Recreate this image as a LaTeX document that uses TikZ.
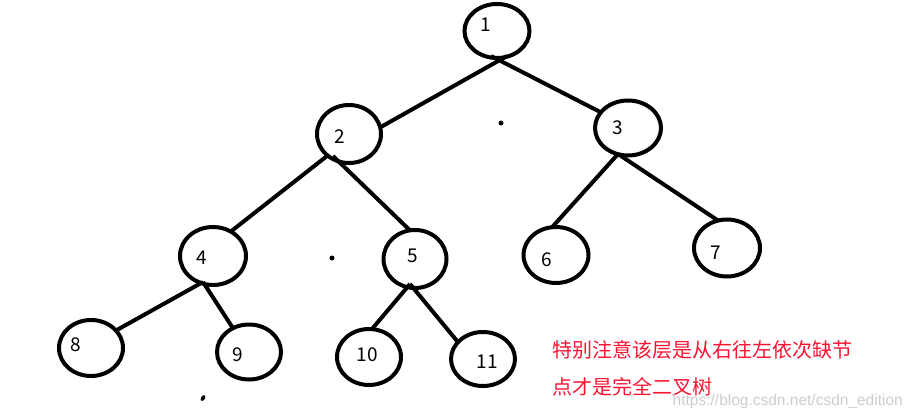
\documentclass[tikz,border=0pt]{standalone}
\usepackage{fontspec}
\setmainfont{Noto Sans CJK SC}
\newfontfamily\wmfont{Liberation Sans}
\usetikzlibrary{shapes.geometric}
\definecolor{notered}{RGB}{250,20,50}
\definecolor{wmgray}{RGB}{205,205,205}
\begin{document}
\begin{tikzpicture}[x=1pt,y=-1pt,
  treenode/.style={ellipse,draw,line width=4pt,inner sep=0pt,outer sep=0pt},
  edge/.style={line width=4pt},
  num/.style={font=\fontsize{19}{19}\selectfont,inner sep=0pt},
  dotmark/.style={fill=black}]
\useasboundingbox (0,0) rectangle (913,420);
% tree nodes
\node[treenode,minimum width=65pt,minimum height=54pt] (n1) at (497,31) {};
\node[treenode,minimum width=64pt,minimum height=58pt] (n2) at (349,134) {};
\node[treenode,minimum width=66pt,minimum height=55pt] (n3) at (628,128) {};
\node[treenode,minimum width=66pt,minimum height=58pt] (n4) at (213,256) {};
\node[treenode,minimum width=63pt,minimum height=58pt] (n5) at (415,259) {};
\node[treenode,minimum width=65pt,minimum height=56pt] (n6) at (556,255) {};
\node[treenode,minimum width=66pt,minimum height=57pt] (n7) at (727,248) {};
\node[treenode,minimum width=64pt,minimum height=56pt] (n8) at (91,348) {};
\node[treenode,minimum width=64pt,minimum height=55pt] (n9) at (249,352) {};
\node[treenode,minimum width=64pt,minimum height=56pt] (n10) at (369,357) {};
\node[treenode,minimum width=64pt,minimum height=54pt] (n11) at (483,359) {};
% numbers
\node[num] (t1) at (486,25) {1};
\node[num] (t2) at (340,137) {2};
\node[num] (t3) at (618,128) {3};
\node[num] (t4) at (202,258) {4};
\node[num] (t5) at (413,256) {5};
\node[num] (t6) at (547,260) {6};
\node[num] (t7) at (716,253) {7};
\node[num] (t8) at (76,345) {8};
\node[num] (t9) at (238,355) {9};
\node[num] (t10) at (367,355) {10};
\node[num] (t11) at (487,362) {11};
% joints
\coordinate (j1a) at (507,56);
\coordinate (j1b) at (491,56);
\coordinate (j2a) at (327,156);
\coordinate (j2b) at (333,156);
\coordinate (j3) at (618,154);
\coordinate (j4) at (203,282);
\coordinate (j5) at (410,284);
% edges
\draw[edge] (j1a) -- (n2.12);
\draw[edge] (j1b) -- (n3.150);
\draw[edge] (j2a) -- (n4.54);
\draw[edge] (j2b) -- (n5.100);
\draw[edge] (j3) -- (n6.98);
\draw[edge] (j3) -- (n7.108);
\draw[edge] (j4) -- (n8.35);
\draw[edge] (j4) -- (n9.124);
\draw[edge] (j5) -- (n10.84);
\draw[edge] (j5) -- (n11.146);
% stray dots
\fill[dotmark] (501,123) circle (2.5pt);
\fill[dotmark] (332,258) circle (2.5pt);
\fill[dotmark,rotate around={60:(203,398)}] (203,398) ellipse (3.2pt and 2pt);
% note
\node[anchor=west,inner sep=0pt,text=notered,font=\fontsize{20}{20}\selectfont] (note1) at (552,350) {特别注意该层是从右往左依次缺节};
\node[anchor=west,inner sep=0pt,text=notered,font=\fontsize{20}{20}\selectfont] (note2) at (552,387) {点才是完全二叉树};
% watermark
\node[anchor=east,inner sep=0pt,text=wmgray,font=\wmfont\fontsize{15.5}{15.5}\selectfont] (wm) at (903,401) {https://blog.csdn.net/csdn\_edition};
\end{tikzpicture}
\end{document}
